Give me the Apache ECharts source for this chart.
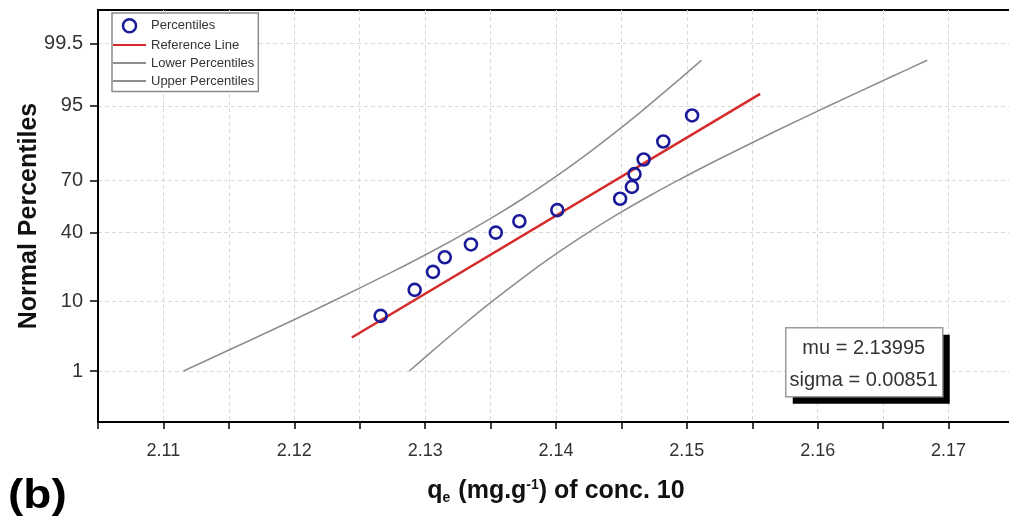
<!DOCTYPE html>
<html><head><meta charset="utf-8">
<script src="https://cdn.jsdelivr.net/npm/echarts@6/dist/echarts.min.js"></script>
<style>html,body{margin:0;padding:0;background:#fff}#c{width:1009px;height:522px}</style>
</head><body><div id="c"></div>
<script>
// ---------- data ----------
const pointX = [2.1266, 2.1292, 2.1306, 2.1315, 2.1335, 2.1354, 2.1372, 2.1401, 2.1449, 2.1458, 2.1460, 2.1467, 2.1482, 2.1504];
const pointPct = [6.67, 13.33, 20.00, 26.67, 33.33, 40.00, 46.67, 53.33, 60.00, 66.67, 73.33, 80.00, 86.67, 93.33];
const refX = [2.1244, 2.1556];
const refPct = [3.4, 96.6];
const bandPct = [1, 2, 5, 10, 20, 30, 40, 50, 60, 70, 80, 90, 95, 98, 99];
const upperX = [2.11153, 2.11455, 2.11904, 2.12294, 2.12749, 2.13061, 2.13314, 2.13537, 2.13745, 2.13954, 2.14182, 2.14475, 2.14704, 2.14950, 2.15111];
const lowerX = [2.12879, 2.13039, 2.13286, 2.13514, 2.13808, 2.14036, 2.14245, 2.14453, 2.14675, 2.14928, 2.15240, 2.15696, 2.16086, 2.16534, 2.16837];
const yTickPct = [1, 10, 40, 70, 95, 99.5];
const yTickLabels = ['1', '10', '40', '70', '95', '99.5'];
const xTickLabels = ['2.11', '2.12', '2.13', '2.14', '2.15', '2.16', '2.17'];
const statsLines = ['mu = 2.13995', 'sigma = 0.00851'];

// ---------- normal probability scale ----------
function probit(p) {
  const a = [-3.969683028665376e+01, 2.209460984245205e+02, -2.759285104469687e+02, 1.383577518672690e+02, -3.066479806614716e+01, 2.506628277459239e+00];
  const b = [-5.447609879822406e+01, 1.615858368580409e+02, -1.556989798598866e+02, 6.680131188771972e+01, -1.328068155288572e+01];
  const c = [-7.784894002430293e-03, -3.223964580411365e-01, -2.400758277161838e+00, -2.549732539343734e+00, 4.374664141464968e+00, 2.938163982698783e+00];
  const d = [7.784695709041462e-03, 3.224671290700398e-01, 2.445134137142996e+00, 3.754408661907416e+00];
  const pl = 0.02425, ph = 1 - pl;
  let q, r;
  if (p < pl) { q = Math.sqrt(-2 * Math.log(p)); return (((((c[0]*q+c[1])*q+c[2])*q+c[3])*q+c[4])*q+c[5]) / ((((d[0]*q+d[1])*q+d[2])*q+d[3])*q+1); }
  if (p <= ph) { q = p - 0.5; r = q*q; return (((((a[0]*r+a[1])*r+a[2])*r+a[3])*r+a[4])*r+a[5])*q / (((((b[0]*r+b[1])*r+b[2])*r+b[3])*r+b[4])*r+1); }
  q = Math.sqrt(-2 * Math.log(1 - p));
  return -(((((c[0]*q+c[1])*q+c[2])*q+c[3])*q+c[4])*q+c[5]) / ((((d[0]*q+d[1])*q+d[2])*q+d[3])*q+1);
}
const z = pct => probit(pct / 100);
const yTickZ = yTickPct.map(z);
const pair = (xs, ps) => xs.map((x, i) => [x, z(ps[i])]);

const FONT = 'Liberation Sans, Arial, sans-serif';
const BLUE = '#1a1a9a';
const chart = echarts.init(document.getElementById('c'), null, {renderer: 'canvas'});
chart.setOption({
  animation: false,
  backgroundColor: '#ffffff',
  grid: {left: 98, top: 10, width: 916, height: 412, show: true, borderColor: '#000', borderWidth: 2,
         backgroundColor: 'transparent', outerBoundsMode: 'none', containLabel: false},
  xAxis: {
    type: 'value', min: 2.105, max: 2.175, interval: 0.005,
    axisLine: {show: true, onZero: false, lineStyle: {color: '#000', width: 2}},
    axisTick: {show: true, inside: false, length: 7, lineStyle: {color: '#000', width: 1.5}},
    axisLabel: {
      margin: 20, fontSize: 18, color: '#333', fontFamily: FONT,
      formatter: v => { const s = Number(v).toFixed(2); return (Math.abs(Number(s) - v) < 1e-6 && xTickLabels.includes(s)) ? s : ''; }
    },
    splitLine: {show: true, lineStyle: {color: '#d9d9d9', type: [4, 3], width: 1}},
    name: '{a|q}{s|e}{a| (mg.g}{p|-1}{a|) of conc. 10}',
    nameLocation: 'middle', nameGap: 55, nameMoveOverlap: false,
    nameTextStyle: {
      fontFamily: FONT,
      rich: {
        a: {fontSize: 25, fontWeight: 'bold', color: '#111', fontFamily: FONT},
        s: {fontSize: 14, fontWeight: 'bold', color: '#111', fontFamily: FONT, padding: [14, 1, 0, 0]},
        p: {fontSize: 14, fontWeight: 'bold', color: '#111', fontFamily: FONT, padding: [0, 0, 12, 0]}
      }
    }
  },
  yAxis: {
    type: 'value', min: -3.09, max: 3.08,
    axisLine: {show: true, onZero: false, lineStyle: {color: '#000', width: 2}},
    axisTick: {show: true, inside: false, length: 8, lineStyle: {color: '#000', width: 1.5}, customValues: yTickZ},
    axisLabel: {
      customValues: yTickZ, margin: 15, fontSize: 20, color: '#333', fontFamily: FONT,
      formatter: v => { const i = yTickZ.findIndex(t => Math.abs(t - v) < 1e-6); return i >= 0 ? yTickLabels[i] : ''; }
    },
    splitLine: {show: true, lineStyle: {color: '#d9d9d9', type: [4, 3], width: 1}},
    name: 'Normal Percentiles', nameLocation: 'middle', nameGap: 56, nameMoveOverlap: false,
    nameTextStyle: {fontSize: 25, fontWeight: 'bold', color: '#111', fontFamily: FONT}
  },
  legend: {
    orient: 'vertical', left: 112, top: 13,
    padding: [5, 4, 4, 0], itemGap: 5, itemWidth: 33, itemHeight: 13,
    borderColor: '#8a8a8a', borderWidth: 1.5, backgroundColor: '#fff',
    textStyle: {fontSize: 13, color: '#333', fontFamily: FONT},
    data: [
      {name: 'Percentiles', icon: 'circle', itemStyle: {color: 'transparent', borderColor: BLUE, borderWidth: 2.5}},
      {name: 'Reference Line', itemStyle: {opacity: 0}},
      {name: 'Lower Percentiles', itemStyle: {opacity: 0}},
      {name: 'Upper Percentiles', itemStyle: {opacity: 0}}
    ]
  },
  series: [
    {name: 'Lower Percentiles', type: 'line', data: pair(lowerX, bandPct), smooth: 0.3, symbol: 'none',
     lineStyle: {color: '#8e8e8e', width: 1.6}, itemStyle: {color: '#8e8e8e'}, z: 2},
    {name: 'Upper Percentiles', type: 'line', data: pair(upperX, bandPct), smooth: 0.3, symbol: 'none',
     lineStyle: {color: '#8e8e8e', width: 1.6}, itemStyle: {color: '#8e8e8e'}, z: 2},
    {name: 'Reference Line', type: 'line', data: pair(refX, refPct), symbol: 'none',
     lineStyle: {color: '#d62b2b', width: 2.5}, itemStyle: {color: '#d62b2b'}, z: 3},
    {name: 'Percentiles', type: 'scatter', data: pair(pointX, pointPct), symbol: 'circle', symbolSize: 12,
     itemStyle: {color: 'transparent', borderColor: BLUE, borderWidth: 2.6, opacity: 1}, z: 4}
  ],
  graphic: [
    {type: 'group', left: 785, top: 327, z: 100, children: [
      {type: 'rect', z: 100, shape: {x: 7, y: 7, width: 157, height: 69}, style: {fill: '#000'}},
      {type: 'rect', z: 101, shape: {x: 0, y: 0, width: 157, height: 69}, style: {fill: '#fff', stroke: '#9a9a9a', lineWidth: 1.5}},
      {type: 'text', z: 102, x: 78, y: 21, style: {text: statsLines[0], font: '20px ' + FONT, fill: '#333', textAlign: 'center', textVerticalAlign: 'middle'}},
      {type: 'text', z: 102, x: 78, y: 53, style: {text: statsLines[1], font: '20px ' + FONT, fill: '#333', textAlign: 'center', textVerticalAlign: 'middle'}}
    ]},
    {type: 'text', left: 8, top: 477, scaleX: 1.15, style: {text: '(b)', font: 'bold 40px ' + FONT, fill: '#000'}}
  ]
});
</script>
</body></html>
